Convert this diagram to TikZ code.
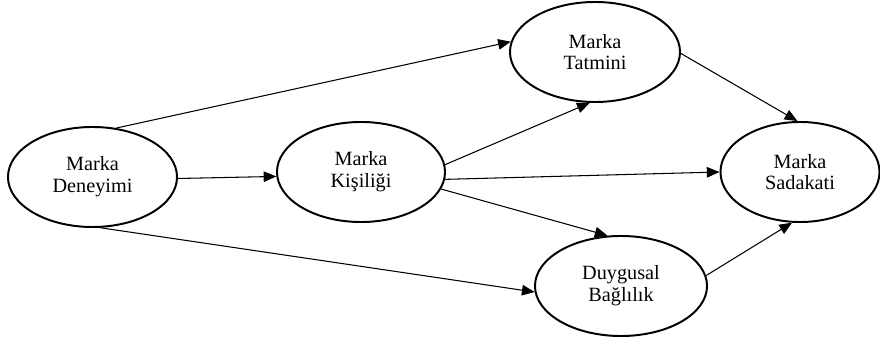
\documentclass[tikz,border=0pt]{standalone}
\usepackage{fontspec}
\setmainfont{Liberation Serif}
\usetikzlibrary{shapes.geometric,arrows.meta}
\begin{document}
\begin{tikzpicture}[x=0.025cm,y=-0.025cm,
  construct/.style={ellipse,draw,line width=1.4pt,inner sep=0pt,
    minimum width=#1*0.05cm,minimum height=2.5cm,align=center,
    font=\fontsize{14.4}{15.5}\selectfont},
  link/.style={line width=0.75pt,-{Triangle[length=9pt,width=7.5pt]}}]
\useasboundingbox (0,0) rectangle (880,339);
\node[construct=84.5] (den) at (92.5,177) {Marka\\Deneyimi};
\node[construct=84] (kis) at (361,172) {Marka\\Kişiliği};
\node[construct=85] (tat) at (595,52) {Marka\\Tatmini};
\node[construct=79.5] (sad) at (800,172) {Marka\\Sadakati};
\node[construct=86] (duy) at (621,286) {Duygusal\\Bağlılık};
\draw[link] (den.64) -- (tat.173);
\draw[link] (den.-1) -- (kis.183);
\draw[link] (den.-81.6) -- (duy.184);
\draw[link] (kis.5) -- (tat.264);
\draw[link] (kis.-5.4) -- (sad.180.7);
\draw[link] (kis.-12.8) -- (duy.105.6);
\draw[link] (tat.-1) -- (sad.93.5);
\draw[link] (duy.7.9) -- (sad.-99);
\end{tikzpicture}
\end{document}
